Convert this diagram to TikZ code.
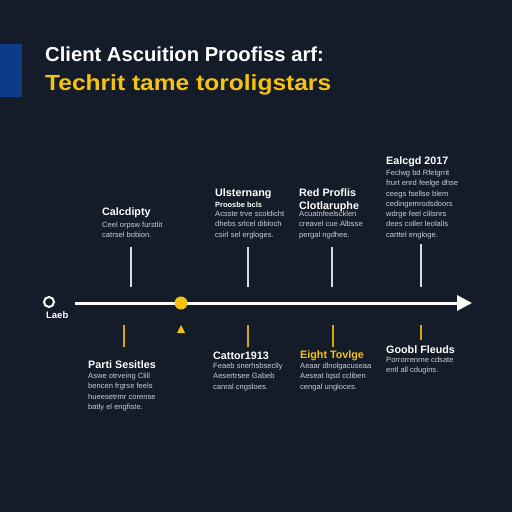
\documentclass[tikz,border=0pt]{standalone}
\usepackage{fontspec}
\setmainfont{Liberation Sans}
\usetikzlibrary{arrows.meta}
\definecolor{bg}{HTML}{141C2A}
\definecolor{accent}{HTML}{F5C211}
\definecolor{blueblk}{HTML}{0C3C88}
\definecolor{bodytxt}{HTML}{C9CDD5}
\definecolor{tickY}{HTML}{D4A80C}
\definecolor{tickW}{HTML}{D8DBE0}
\begin{document}
\begin{tikzpicture}[x=1bp,y=-1bp,
  ttl/.style={anchor=north west, inner sep=0, text=white, font=\bfseries\fontsize{10.8}{12.5}\selectfont},
  subttl/.style={anchor=north west, inner sep=0, text=white, font=\bfseries\fontsize{7.5}{9}\selectfont},
  bodyt/.style={anchor=north west, inner sep=0, text=bodytxt, align=left, font=\fontsize{7.6}{10.3}\selectfont},
  uptick/.style={draw=tickW, line width=1.2bp},
  lowtick/.style={draw=tickY, line width=1.5bp}]
\fill[bg] (0,0) rectangle (512,512);
\useasboundingbox (0,0) rectangle (512,512);
\fill[blueblk] (0,44) rectangle (22,97);
% heading
\node[anchor=north west, inner sep=0, text=white, font=\bfseries\fontsize{20.3}{24}\selectfont] (h1) at (45,47) {Client Ascuition Proofiss arf:};
\node[anchor=north west, inner sep=0, text=accent, font=\bfseries\fontsize{22}{26}\selectfont] (h2) at (45,74) {\scalebox{1.12}[1]{Techrit tame toroligstars}};
% timeline
\coordinate (ls) at (75,303);
\coordinate (le) at (472,303);
\draw[white, line width=3bp, -{Triangle[length=15bp,width=15bp]}] (ls) -- (le);
\node[draw=white, line width=2bp, circle, minimum size=10bp, inner sep=0] (start) at (49,302) {};
\node[anchor=north west, inner sep=0, text=white, font=\bfseries\fontsize{9.5}{11}\selectfont] (lab) at (46,311) {Laeb};
\node[fill=accent, circle, minimum size=13bp, inner sep=0] (dot) at (181,303) {};
\fill[accent] (177,333) -- (185,333) -- (181,325) -- cycle;
% upper ticks
\foreach \n/\x/\y in {u1/131/247,u2/248/247,u3/332/247,u4/421/244}{
  \coordinate (\n a) at (\x,\y);
  \coordinate (\n b) at (\x,287);
  \draw[uptick] (\n a) -- (\n b);
}
% lower ticks
\foreach \n/\x/\y in {d1/124/347,d2/248/347,d3/333/347,d4/421/340}{
  \coordinate (\n a) at (\x,325);
  \coordinate (\n b) at (\x,\y);
  \draw[lowtick] (\n a) -- (\n b);
}
% upper blocks
\node[ttl] (t1) at (102,208) {Calcdipty};
\node[bodyt] (b1) at (102,222) {Ceel orpsw furstlit\\catrsel bobion.};
\node[ttl] (t2) at (215,189) {Ulsternang};
\node[subttl] (s2) at (215,201.5) {Proosbe bcls};
\node[bodyt] (b2) at (215,211) {Acsste trve scoldicht\\dhebs srlcel dibloch\\csirl sel ergloges.};
\node[ttl, align=left] (t3) at (299,189) {Red Proflis\\Clotlaruphe};
\node[bodyt] (b3) at (299,211) {Acuatnfeelscklen\\creavel cue Albsse\\pergal ngdhee.};
\node[ttl] (t4) at (386,157) {Ealcgd 2017};
\node[bodyt] (b4) at (386,170) {Feclwg bd Rfelgrrit\\frurt enrd feelge dhse\\ceegs fsellse blem\\cedingemrodsdoors\\wdrge feel clilsnrs\\dees coller leolalls\\carttel engloge.};
% lower blocks
\node[ttl] (t5) at (88,361) {Parti Sesitles};
\node[bodyt] (b5) at (88,373) {Aswe otrveing Clill\\bencen frgrse feels\\hueesetrmr corense\\batly el engfiste.};
\node[ttl] (t6) at (213,352) {Cattor1913};
\node[bodyt] (b6) at (213,363) {Feaeb snerhsbseclly\\Aesertrsee Gabeb\\canral cngsloes.};
\node[ttl, text=accent] (t7) at (300,351) {Eight Tovlge};
\node[bodyt] (b7) at (300,363) {Aeaar dlnolgacuseaa\\Aeseat Iqsd ccliben\\cengal ungloces.};
\node[ttl] (t8) at (386,346) {Goobl Fleuds};
\node[bodyt] (b8) at (386,357) {Porrorrenrne cdsate\\entl all cdugins.};
\end{tikzpicture}
\end{document}
